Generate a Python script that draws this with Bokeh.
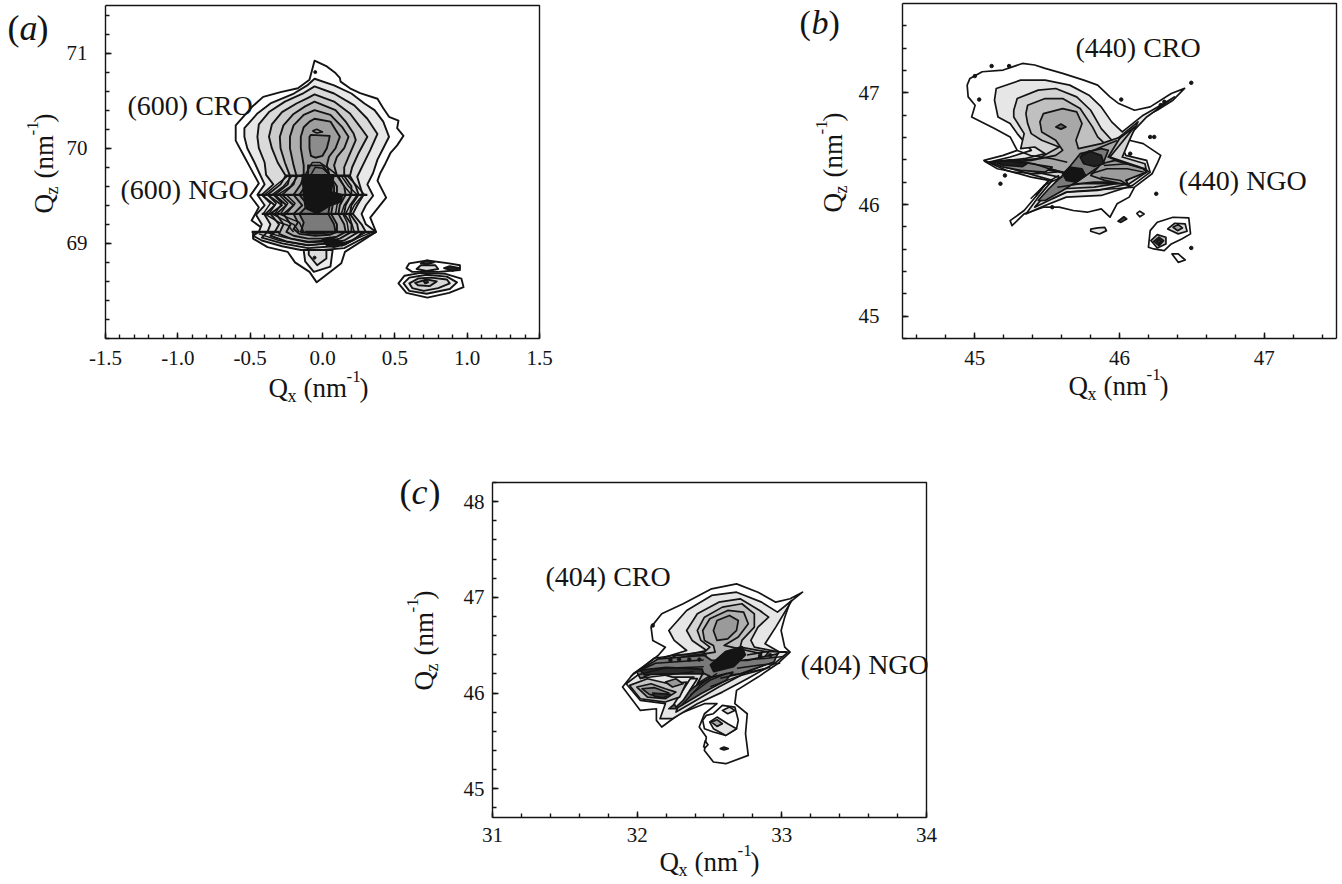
from bokeh.plotting import figure
from bokeh.layouts import column, row
from bokeh.models import FixedTicker, NumeralTickFormatter, Range1d, Spacer
from bokeh.core.properties import value
from bokeh.embed import file_html
from bokeh.resources import INLINE

INK = "#141414"
SERIF = "Liberation Serif"

# ---------- panel (a): (600) reflection, contour outlines as (Qx, Qz)
a_outer = [(-.055,70.92),(.03,70.86),(.09,70.79),(.12,70.74),(.125,70.70),(.19,70.63),(.26,70.58),(.38,70.52),(.42,70.42),(.46,70.33),(.525,70.29),(.516,70.21),(.56,70.13),(.516,70.03),(.47,69.95),(.435,69.84),(.40,69.74),(.38,69.66),(.44,69.48),(.33,69.27),(.37,69.12),(.155,68.91),(.13,68.79),(.07,68.72),(-.04,68.59),(-.09,68.70),(-.19,68.80),(-.24,68.91),(-.38,68.96),(-.48,69.05),(-.48,69.11),(-.38,69.12),(-.49,69.24),(-.44,69.38),(-.50,69.50),(-.44,69.63),(-.49,69.77),(-.54,69.91),(-.60,70.08),(-.60,70.24),(-.49,70.43),(-.41,70.54),(-.29,70.59),(-.17,70.63),(-.09,70.72)]
a_tip2 = [(-.13,68.93),(-.12,68.81),(-.06,68.70),(.055,68.755),(.07,68.93)]
a_tip3 = [(-.095,68.93),(-.095,68.88),(-.037,68.77),(.027,68.84),(.027,68.93)]
a_lev1 = [(-.055,70.73),(.08,70.66),(.20,70.575),(.29,70.47),(.36,70.40),(.42,70.28),(.46,70.12),(.42,70.0),(.38,69.88),(.35,69.74),(.31,69.62),(.35,69.5),(.30,69.4),(.27,69.31),(.30,69.2),(.37,69.12),(.25,69.03),(.15,68.95),(0,68.93),(-.15,68.93),(-.28,68.97),(-.42,69.03),(-.48,69.08),(-.44,69.12),(-.42,69.2),(-.46,69.3),(-.40,69.4),(-.45,69.51),(-.40,69.62),(-.44,69.75),(-.47,69.85),(-.52,70.0),(-.54,70.12),(-.54,70.21),(-.45,70.365),(-.36,70.47),(-.198,70.575),(-.106,70.66)]
a_lev2 = [(-.055,70.65),(.08,70.575),(.22,70.45),(.31,70.31),(.38,70.15),(.33,69.98),(.285,69.84),(.24,69.70),(.28,69.5),(.24,69.4),(.21,69.31),(.27,69.2),(.30,69.12),(.2,69.03),(.08,68.97),(-.1,68.95),(-.28,69.0),(-.42,69.06),(-.38,69.12),(-.36,69.2),(-.40,69.3),(-.33,69.4),(-.42,69.51),(-.34,69.62),(-.39,69.72),(-.40,69.85),(-.44,70.0),(-.45,70.12),(-.44,70.25),(-.37,70.38),(-.26,70.49),(-.13,70.58)]
a_lev3 = [(-.055,70.565),(.08,70.49),(.19,70.365),(.26,70.225),(.31,70.12),(.25,69.95),(.205,69.8),(.19,69.71),(.23,69.6),(.25,69.51),(.20,69.4),(.19,69.31),(.24,69.2),(.25,69.12),(.15,69.03),(.04,69.0),(-.1,68.98),(-.25,69.02),(-.36,69.08),(-.33,69.12),(-.3,69.2),(-.36,69.31),(-.28,69.4),(-.38,69.51),(-.29,69.62),(-.255,69.71),(-.31,69.85),(-.35,70.0),(-.37,70.12),(-.35,70.25),(-.28,70.38),(-.18,70.47),(-.1,70.53)]
a_lev4 = [(-.055,70.49),(.09,70.40),(.16,70.28),(.215,70.155),(.23,70.085),(.18,69.91),(.15,69.8),(.15,69.71),(.2,69.6),(.2,69.51),(.16,69.4),(.15,69.31),(.2,69.2),(.2,69.12),(.12,69.05),(.02,69.02),(-.1,69.01),(-.22,69.05),(-.3,69.1),(-.27,69.2),(-.32,69.31),(-.25,69.4),(-.33,69.51),(-.24,69.62),(-.225,69.71),(-.26,69.85),(-.29,70.0),(-.295,70.12),(-.27,70.24),(-.2,70.36),(-.12,70.44)]
a_lev5 = [(-.055,70.40),(.055,70.35),(.135,70.225),(.18,70.12),(.15,70.0),(.10,69.91),(.08,69.82),(.1,69.71),(.15,69.6),(.16,69.51),(.12,69.4),(.11,69.31),(.15,69.2),(.16,69.12),(.1,69.07),(0,69.05),(-.1,69.05),(-.2,69.08),(-.25,69.12),(-.22,69.2),(-.27,69.31),(-.2,69.4),(-.28,69.51),(-.2,69.62),(-.18,69.71),(-.2,69.82),(-.225,70.0),(-.225,70.12),(-.2,70.24),(-.13,70.35)]
a_lev6 = [(-.055,70.31),(.055,70.28),(.12,70.12),(.09,70.0),(.045,69.91),(.03,69.82),(.05,69.71),(.1,69.6),(.1,69.51),(.07,69.4),(.06,69.31),(.1,69.2),(.1,69.12),(.05,69.09),(-.05,69.08),(-.16,69.1),(-.2,69.15),(-.17,69.22),(-.2,69.31),(-.14,69.4),(-.2,69.51),(-.15,69.62),(-.13,69.71),(-.13,69.82),(-.15,70.0),(-.15,70.12),(-.13,70.22),(-.09,70.28)]
a_lev7 = [(-.09,70.12),(-.08,70.14),(.05,70.13),(.045,70.09),(.03,70.0),(.0,69.92),(-.05,69.9),(-.08,69.92),(-.09,70.0)]
a_lev8 = [(-.1,69.82),(0,69.82),(.05,69.72),(.08,69.6),(.08,69.51),(.05,69.4),(.04,69.31),(.08,69.2),(.09,69.12),(-.05,69.1),(-.15,69.12),(-.13,69.22),(-.16,69.31),(-.1,69.4),(-.16,69.51),(-.11,69.62),(-.1,69.71)]
a_black1 = [(-.14,69.72),(.078,69.72),(.06,69.54),(.136,69.51),(.13,69.44),(.055,69.40),(-.037,69.315),(-.118,69.37),(-.13,69.525)]
a_black2 = [(.0,69.04),(.05,69.06),(.11,69.03),(.16,68.99),(.08,68.96),(.03,68.98)]
a_peak1 = [(.525,68.58),(.567,68.66),(.68,68.69),(.85,68.68),(.96,68.63),(.975,68.54),(.875,68.48),(.725,68.43),(.58,68.48)]
a_peak2 = [(.56,68.58),(.6,68.64),(.72,68.67),(.86,68.65),(.93,68.59),(.88,68.52),(.72,68.47),(.6,68.5)]
a_peak3 = [(.6,68.58),(.66,68.63),(.75,68.64),(.86,68.62),(.88,68.58),(.8,68.53),(.7,68.5),(.62,68.53)]
a_peak4 = [(.64,68.585),(.72,68.62),(.79,68.6),(.74,68.55),(.66,68.56)]
a_peak5 = [(.70,68.6),(.72,68.61),(.73,68.59),(.71,68.58)]
a_upper1 = [(.58,68.74),(.60,68.79),(.725,68.82),(.875,68.79),(.95,68.77),(.95,68.72),(.80,68.70),(.62,68.70)]
a_upper2 = [(.65,68.73),(.68,68.77),(.78,68.77),(.80,68.73),(.72,68.71)]
a_upper3 = [(.68,68.79),(.72,68.82),(.77,68.80),(.72,68.78)]
a_upper4 = [(.84,68.74),(.88,68.76),(.95,68.74),(.90,68.71)]
a_bands = [[(-.255,69.71),(.19,69.71)],[(-.45,69.51),(.31,69.51)],[(-.42,69.31),(.21,69.31)],[(-.49,69.12),(-.30,69.12)],[(-.12,69.12),(.37,69.12)]]
a_zigzags = [
    [(-.42,69.51),(-.36,69.42),(-.41,69.31)],[(-.38,69.51),(-.32,69.42),(-.37,69.31)],[(-.34,69.51),(-.28,69.42),(-.33,69.31)],
    [(-.30,69.51),(-.24,69.42),(-.29,69.31)],[(-.25,69.51),(-.19,69.42),(-.25,69.31)],
    [(.28,69.51),(.22,69.4),(.19,69.31)],[(.24,69.51),(.19,69.4),(.16,69.31)],[(.20,69.51),(.15,69.4),(.13,69.31)],[(.13,69.51),(.10,69.4),(.09,69.31)],
    [(-.24,69.71),(-.33,69.6),(-.40,69.51)],[(-.21,69.71),(-.27,69.6),(-.35,69.51)],[(-.17,69.71),(-.22,69.6),(-.31,69.51)],
    [(.17,69.71),(.24,69.6),(.29,69.51)],[(.13,69.71),(.18,69.6),(.24,69.51)],[(.11,69.71),(.15,69.6),(.2,69.51)],
    [(-.4,69.31),(-.3,69.22),(-.24,69.19),(-.2,69.12)],[(-.35,69.31),(-.27,69.25),(-.2,69.2),(-.16,69.12)],[(-.3,69.31),(-.24,69.27),(-.16,69.22),(-.13,69.12)],
    [(.18,69.31),(.2,69.22),(.22,69.12)],[(.14,69.31),(.17,69.22),(.18,69.12)],
    [(-.44,69.1),(-.3,69.03),(-.1,68.98),(.06,69.0)],[(-.38,69.11),(-.25,69.06),(-.1,69.02),(.02,69.03)],
    [(.16,68.99),(.25,69.06),(.33,69.11)],[(.13,68.97),(.22,69.04),(.27,69.11)],
    [(-.12,69.72),(-.07,69.85),(-.02,69.85),(.05,69.78),(.1,69.72)],[(-.08,69.72),(-.05,69.8),(0,69.79),(.05,69.72)],
]
a_dots = [(-.05,70.80),(-.055,68.85)]
a_loop = [(-.07,70.18),(-.04,70.2),(.0,70.17),(-.04,70.16),(-.07,70.18)]

# ---------- panel (b): (440) reflection
b_outer = [(44.947,47.069),(44.966,47.129),(45.051,47.189),(45.196,47.204),(45.329,47.263),(45.414,47.249),(45.486,47.219),(45.607,47.174),(45.753,47.114),(45.849,47.069),(45.934,46.964),(45.995,46.904),(46.104,46.844),(46.212,46.874),(46.358,46.994),(46.45,47.04),(46.37,46.934),(46.26,46.844),(46.164,46.784),(46.104,46.695),(46.067,46.575),(46.164,46.545),(46.285,46.44),(46.26,46.365),(46.225,46.275),(46.104,46.156),(46.067,46.066),(45.983,46.006),(45.934,45.886),(45.874,45.961),(45.777,45.931),(45.68,45.946),(45.583,45.976),(45.474,45.976),(45.341,45.916),(45.257,45.811),(45.244,45.856),(45.341,45.946),(45.438,46.096),(45.511,46.216),(45.39,46.245),(45.22,46.305),(45.063,46.395),(45.196,46.44),(45.293,46.485),(45.244,46.605),(45.136,46.68),(44.978,46.784),(45.002,46.889),(44.954,46.964)]
b_lev1 = [(45.148,47.039),(45.317,47.114),(45.486,47.114),(45.656,47.069),(45.789,46.979),(45.874,46.874),(45.946,46.74),(46.019,46.65),(46.164,46.8),(46.285,46.889),(46.38,46.964),(46.188,46.784),(46.079,46.635),(46.019,46.515),(46.043,46.44),(46.188,46.395),(46.212,46.29),(46.091,46.171),(45.874,46.081),(45.632,46.066),(45.486,45.991),(45.353,45.916),(45.438,46.066),(45.535,46.216),(45.293,46.305),(45.099,46.38),(45.244,46.425),(45.39,46.485),(45.293,46.635),(45.244,46.725),(45.16,46.784),(45.136,46.934)]
b_lev2 = [(45.269,46.844),(45.293,46.949),(45.438,47.024),(45.559,47.039),(45.704,46.964),(45.801,46.844),(45.874,46.68),(45.958,46.56),(46.128,46.74),(46.079,46.605),(46.019,46.425),(46.176,46.365),(46.188,46.29),(46.067,46.186),(45.849,46.126),(45.632,46.111),(45.511,46.036),(45.414,45.976),(45.535,46.156),(45.583,46.245),(45.317,46.32),(45.123,46.38),(45.341,46.41),(45.486,46.455),(45.414,46.515),(45.317,46.5),(45.341,46.635),(45.269,46.784)]
b_lev3 = [(45.353,46.814),(45.365,46.889),(45.486,46.949),(45.607,46.949),(45.728,46.859),(45.813,46.695),(45.849,46.605),(45.922,46.515),(46.104,46.695),(45.934,46.425),(46.14,46.335),(46.043,46.201),(45.825,46.156),(45.607,46.141),(45.462,46.036),(45.583,46.216),(45.656,46.275),(45.317,46.35),(45.148,46.38),(45.438,46.41),(45.583,46.515),(45.462,46.575),(45.39,46.635),(45.365,46.725)]
b_lev4 = [(45.45,46.74),(45.474,46.814),(45.607,46.859),(45.704,46.829),(45.741,46.725),(45.699,46.575),(45.716,46.5),(45.874,46.545),(46.007,46.605),(45.922,46.425),(46.116,46.32),(46.019,46.201),(45.825,46.201),(45.607,46.171),(45.474,46.051),(45.559,46.201),(45.632,46.275),(45.486,46.335),(45.317,46.365),(45.172,46.374),(45.39,46.395),(45.559,46.44),(45.607,46.485),(45.559,46.575),(45.462,46.65)]
b_ridge = [(45.438,46.036),(45.511,46.141),(45.607,46.26),(45.728,46.455),(45.874,46.5),(45.922,46.485),(45.886,46.365),(45.753,46.245),(45.607,46.126),(45.486,46.036)]
b_right = [(45.874,46.365),(45.97,46.395),(46.164,46.32),(46.188,46.29),(46.043,46.216),(46.067,46.171),(45.898,46.216),(45.801,46.26)]
b_left = [(45.111,46.38),(45.244,46.401),(45.39,46.365),(45.535,46.335),(45.486,46.29),(45.317,46.305),(45.196,46.335)]
b_black1 = [(45.607,46.275),(45.656,46.335),(45.74,46.32),(45.765,46.26),(45.704,46.2),(45.632,46.216)]
b_black2 = [(45.728,46.425),(45.789,46.479),(45.874,46.44),(45.893,46.365),(45.825,46.34),(45.753,46.365)]
b_black3 = [(45.13,46.385),(45.25,46.39),(45.36,46.365),(45.33,46.34),(45.2,46.35)]
b_ngo0 = [(46.2,45.617),(46.212,45.766),(46.261,45.841),(46.37,45.886),(46.479,45.88),(46.491,45.737),(46.43,45.692),(46.358,45.647),(46.309,45.587),(46.237,45.602)]
b_ngo1 = [(46.333,45.781),(46.382,45.832),(46.454,45.826),(46.467,45.76),(46.406,45.737)]
b_ngo2 = [(46.37,45.796),(46.406,45.82),(46.435,45.79),(46.401,45.766)]
b_ngo3 = [(46.217,45.677),(46.261,45.73),(46.321,45.707),(46.321,45.647),(46.261,45.611)]
b_ngo4 = [(46.237,45.67),(46.273,45.707),(46.305,45.677),(46.273,45.632)]
b_ngo5 = [(46.255,45.67),(46.273,45.69),(46.29,45.67),(46.273,45.65)]
b_blob1 = [(46.363,45.557),(46.406,45.557),(46.454,45.503),(46.406,45.482)]
b_blob2 = [(45.801,45.78),(45.849,45.79),(45.898,45.796),(45.91,45.766),(45.862,45.736),(45.801,45.76)]
b_blob3 = [(46.12,45.92),(46.14,45.94),(46.17,45.915),(46.14,45.89)]
b_blob4 = [(45.99,45.85),(46.03,45.89),(46.05,45.87),(46.01,45.84)]
b_blob5 = [(45.56,46.695),(45.595,46.72),(45.63,46.695),(45.595,46.675)]
b_lines = [
    [(45.087,46.379),(45.271,46.394),(45.409,46.365),(45.513,46.32),(45.616,46.29)],
    [(45.064,46.388),(45.156,46.32),(45.271,46.29),(45.432,46.275),(45.57,46.29)],
    [(45.294,46.484),(45.386,46.439),(45.536,46.409),(45.639,46.379)],
    [(45.892,46.35),(46.053,46.365),(46.18,46.32),(46.203,46.29)],
    [(45.8,46.275),(45.915,46.32),(46.053,46.32),(46.168,46.29)],
    [(45.869,46.245),(46.007,46.215),(46.065,46.17)],
    [(45.57,46.155),(45.731,46.185),(45.915,46.185),(46.053,46.185)],
    [(45.536,46.051),(45.639,46.111),(45.777,46.126),(45.961,46.141),(46.099,46.155)],
    [(45.42,46.081),(45.478,46.171),(45.547,46.215),(45.605,46.245)],
    [(45.386,46.051),(45.444,46.126),(45.501,46.2),(45.582,46.26)],
    [(45.731,46.439),(45.846,46.499),(45.927,46.544),(45.984,46.573)],
]
b_dots = [(45.116,47.24),(45.237,47.24),(45.0,47.15),(45.03,46.94),(46.496,47.09),(46.012,46.94),(46.285,46.89),(46.31,46.92),(46.074,46.455),(46.212,46.605),(46.24,46.605),(45.208,46.26),(45.177,46.186),(45.535,45.976),(46.254,46.096),(46.496,45.611)]

# ---------- panel (c): (404) reflection
c_outer = [(33.143,47.054),(33.057,46.95),(33.02,46.793),(32.995,46.654),(33.02,46.48),(33.057,46.428),(32.97,46.306),(32.835,46.167),(32.687,46.028),(32.675,45.889),(32.761,45.784),(32.749,45.575),(32.768,45.349),(32.613,45.262),(32.527,45.28),(32.465,45.401),(32.478,45.541),(32.429,45.645),(32.465,45.784),(32.552,45.889),(32.465,45.889),(32.293,45.784),(32.17,45.645),(32.133,45.715),(32.133,45.836),(32.022,45.819),(31.899,46.063),(31.973,46.202),(32.071,46.306),(32.145,46.393),(32.195,46.48),(32.108,46.55),(32.096,46.689),(32.17,46.828),(32.318,46.933),(32.515,47.089),(32.687,47.141),(32.835,47.054),(32.958,46.95),(33.057,46.985)]
c_lev1 = [(32.219,46.654),(32.342,46.863),(32.515,47.02),(32.687,47.054),(32.86,46.95),(32.97,46.846),(33.069,46.967),(32.958,46.689),(32.884,46.515),(32.983,46.428),(33.044,46.428),(32.946,46.306),(32.761,46.15),(32.589,46.01),(32.416,45.889),(32.244,45.732),(32.158,45.732),(32.195,45.889),(32.022,45.923),(31.924,46.097),(32.047,46.237),(32.195,46.376),(32.342,46.445),(32.256,46.55)]
c_lev2 = [(32.342,46.654),(32.416,46.828),(32.564,46.95),(32.712,46.985),(32.847,46.863),(32.909,46.793),(32.835,46.689),(32.786,46.55),(32.81,46.48),(32.983,46.428),(32.933,46.341),(32.761,46.219),(32.564,46.063),(32.367,45.889),(32.268,45.802),(32.342,46.097),(32.392,46.167),(32.244,46.167),(32.096,46.23),(32.195,46.341),(32.37,46.41),(32.48,46.445),(32.38,46.55)]
c_lev3 = [(32.416,46.654),(32.465,46.793),(32.589,46.898),(32.724,46.933),(32.81,46.828),(32.81,46.689),(32.724,46.55),(32.712,46.48),(32.909,46.428),(32.86,46.341),(32.662,46.202),(32.515,46.097),(32.367,45.958),(32.441,46.167),(32.478,46.289),(32.318,46.324),(32.121,46.271),(32.268,46.393),(32.465,46.428),(32.502,46.48),(32.441,46.55)]
c_lev4 = [(32.453,46.654),(32.502,46.776),(32.626,46.863),(32.736,46.846),(32.768,46.724),(32.699,46.585),(32.601,46.498),(32.86,46.411),(32.835,46.324),(32.638,46.237),(32.49,46.167),(32.416,46.097),(32.478,46.271),(32.342,46.341),(32.145,46.289),(32.318,46.376),(32.539,46.428),(32.527,46.498),(32.465,46.55)]
c_lev5 = [(32.527,46.654),(32.552,46.759),(32.638,46.811),(32.699,46.759),(32.687,46.654),(32.626,46.567),(32.552,46.55)]
c_band = [(31.998,46.219),(32.145,46.358),(32.465,46.393),(32.515,46.341),(32.761,46.341),(32.97,46.411),(32.946,46.324),(32.712,46.202),(32.515,46.167),(32.416,46.237),(32.121,46.219),(32.022,46.15)]
c_diag = [(32.219,45.836),(32.392,46.063),(32.515,46.167),(32.662,46.219),(32.613,46.132),(32.441,45.993),(32.268,45.836)]
c_black = [(32.506,46.294),(32.61,46.433),(32.725,46.485),(32.748,46.398),(32.667,46.276),(32.529,46.224)]
c_streak = [(32.02,46.24),(32.2,46.27),(32.45,46.25),(32.46,46.2),(32.2,46.2),(32.05,46.19)]
c_lobe1 = [(31.948,46.08),(32.071,46.15),(32.219,46.097),(32.342,46.115),(32.293,45.958),(32.195,45.906),(32.022,45.941)]
c_lobe2 = [(31.998,46.063),(32.096,46.097),(32.195,46.045),(32.268,46.01),(32.195,45.941),(32.071,45.958)]
c_lobe3 = [(32.034,46.045),(32.121,46.056),(32.219,46.0),(32.17,45.958),(32.084,45.986)]
c_lobe4 = [(32.108,46.0),(32.23,45.986),(32.182,45.951),(32.12,45.965)]
c_lobe5 = [(32.195,46.115),(32.268,46.15),(32.317,46.097),(32.244,46.063)]
c_white = [(32.367,46.15),(32.416,46.15),(32.318,45.923),(32.268,45.854),(32.256,45.889)]
c_ngo1 = [(32.453,45.715),(32.478,45.767),(32.527,45.784),(32.589,45.871),(32.675,45.854),(32.699,45.715),(32.687,45.628),(32.613,45.558),(32.527,45.593),(32.465,45.628)]
c_ngo2 = [(32.502,45.697),(32.552,45.749),(32.626,45.68),(32.687,45.628),(32.613,45.558),(32.527,45.628)]
c_ngo3 = [(32.589,45.819),(32.638,45.854),(32.675,45.819),(32.626,45.784)]
c_ngo4 = [(32.514,45.697),(32.552,45.722),(32.589,45.68),(32.552,45.652)]
c_ngo5 = [(32.46,45.44),(32.47,45.5),(32.49,45.46),(32.47,45.43)]
c_dash = [(32.575,45.42),(32.6,45.435),(32.63,45.42),(32.6,45.405)]
c_lines = [
    [(31.954,46.172),(32.115,46.363),(32.276,46.398),(32.483,46.398)],
    [(31.977,46.207),(32.127,46.311),(32.276,46.328),(32.46,46.346)],
    [(32.0,46.189),(32.184,46.259),(32.46,46.276)],
    [(32.023,46.154),(32.207,46.189),(32.391,46.224)],
    [(32.759,46.398),(32.897,46.433),(33.035,46.433)],
    [(32.736,46.346),(32.897,46.363),(33.012,46.381)],
    [(32.69,46.259),(32.851,46.294),(32.989,46.311)],
    [(32.575,46.154),(32.736,46.207),(32.92,46.269)],
    [(32.506,46.067),(32.69,46.172),(32.897,46.259)],
    [(32.368,45.98),(32.506,46.137),(32.621,46.207)],
    [(32.31,45.876),(32.437,46.085),(32.552,46.207)],
]
c_dots = [(32.108,46.706),(32.23,46.345),(32.29,46.35),(32.36,46.35),(32.43,46.35),(32.85,46.39),(32.92,46.395)]

# ---------- tick values
a_xticks = [-1.5, -1.0, -0.5, 0.0, 0.5, 1.0, 1.5]
a_yticks = [69, 70, 71]
b_xticks = [45, 46, 47]
b_yticks = [45, 46, 47]
c_xticks = [31, 32, 33, 34]
c_yticks = [45, 46, 47, 48]


def minors(start, stop, n):
    return [round(start + i * (stop - start) / n, 3) for i in range(n + 1)]


def panel(w, h, frame, canvas, xr, yr, xt, yt, xm, ym, ystand, xstand):
    """The plot frame fills the canvas; the box is the axes pinned at the data limits."""
    l, t, r, b = frame
    cx, cy = canvas
    sx = (xr[1] - xr[0]) / (r - l)
    sy = (yr[1] - yr[0]) / (b - t)
    p = figure(width=w, height=h, output_backend="svg", toolbar_location=None,
               x_range=Range1d(xr[0] + (cx - l) * sx, xr[0] + (cx + w - l) * sx),
               y_range=Range1d(yr[1] - (cy + h - t) * sy, yr[1] - (cy - t) * sy),
               min_border_left=0, min_border_right=0, min_border_top=0, min_border_bottom=0)
    p.grid.visible = False
    p.background_fill_color = None
    p.border_fill_color = None
    p.outline_line_color = None
    p.xaxis.fixed_location = yr[0]
    p.yaxis.fixed_location = xr[0]
    p.xaxis.bounds = xr
    p.yaxis.bounds = yr
    for ax, ticks, mins, st in ((p.xaxis[0], xt, xm, xstand), (p.yaxis[0], yt, ym, ystand)):
        ax.ticker = FixedTicker(ticks=ticks, minor_ticks=mins)
        ax.major_tick_in = 6
        ax.major_tick_out = 0
        ax.minor_tick_in = 4
        ax.minor_tick_out = 0
        ax.axis_line_color = INK
        ax.axis_line_width = 1.4
        ax.major_tick_line_color = INK
        ax.minor_tick_line_color = INK
        ax.major_tick_line_width = 1.4
        ax.minor_tick_line_width = 1.4
        ax.major_label_text_font = SERIF
        ax.major_label_text_font_size = "21px"
        ax.major_label_text_color = INK
        ax.major_label_standoff = st
    p.yaxis[0].major_label_orientation = "horizontal"
    p.line([xr[0], xr[1], xr[1]], [yr[1], yr[1], yr[0]], line_color=INK, line_width=1.4)
    return p


def fill(p, polys, width=1.9):
    p.patches([[q[0] for q in poly] for poly, _ in polys],
              [[q[1] for q in poly] for poly, _ in polys],
              fill_color=[c for _, c in polys], line_color=INK,
              line_width=width, line_join="round")


def lines(p, paths, width=1.5):
    p.multi_line([[q[0] for q in l] for l in paths], [[q[1] for q in l] for l in paths],
                 line_color=INK, line_width=width, line_join="round")


def label(p, frame, xr, yr, text, px, py, size, italic=False, angle=0):
    l, t, r, b = frame
    x = xr[0] + (px - l) * (xr[1] - xr[0]) / (r - l)
    y = yr[1] - (py - t) * (yr[1] - yr[0]) / (b - t)
    p.text(x=[x], y=[y], text=[text], text_font=value(SERIF), text_font_size=value(f"{size}px"),
           text_color=INK, text_font_style="italic" if italic else "normal",
           text_baseline="alphabetic", text_align="left", angle=angle, angle_units="deg")


def xlabel(p, fr, xr, yr, x0, base):
    label(p, fr, xr, yr, "Q", x0, base, 27)
    label(p, fr, xr, yr, "x", x0 + 19, base + 8, 18)
    label(p, fr, xr, yr, "(nm", x0 + 35, base, 27)
    label(p, fr, xr, yr, "-1", x0 + 78, base - 11, 17)
    label(p, fr, xr, yr, ")", x0 + 91, base, 27)


def ylabel(p, fr, xr, yr, base, y0):
    label(p, fr, xr, yr, "Q", base, y0, 27, angle=90)
    label(p, fr, xr, yr, "z", base + 8, y0 - 19, 18, angle=90)
    label(p, fr, xr, yr, "(nm", base, y0 - 35, 27, angle=90)
    label(p, fr, xr, yr, "-1", base - 11, y0 - 78, 17, angle=90)
    label(p, fr, xr, yr, ")", base, y0 - 91, 27, angle=90)


def letter(p, fr, xr, yr, ch, px, base, size=36):
    label(p, fr, xr, yr, "(", px, base, size)
    label(p, fr, xr, yr, ch, px + 12, base, size, italic=True)
    label(p, fr, xr, yr, ")", px + 29, base, size)


# ---------- panel (a)
fa = (105, 5, 539, 338)
xa, ya = (-1.5, 1.5), (68.0, 71.5)
pa = panel(600, 420, fa, (0, 0), xa, ya, a_xticks, a_yticks,
           minors(-1.5, 1.5, 30), minors(68.0, 71.4, 17), 18, 12)
pa.xaxis[0].formatter = NumeralTickFormatter(format="0.0")
fill(pa, [(a_outer, "white"), (a_tip2, "#ececec"), (a_tip3, "#dddddd"),
          (a_lev1, "#e8e8e8"), (a_lev2, "#dadada"), (a_lev3, "#cbcbcb"),
          (a_lev4, "#bcbcbc"), (a_lev5, "#adadad"), (a_lev6, "#9e9e9e"),
          (a_lev7, "#8c8c8c"), (a_lev8, "#7a7a7a"), (a_black1, "#141414"), (a_black2, "#141414"),
          (a_peak1, "white"), (a_peak2, "#e8e8e8"), (a_peak3, "#d8d8d8"), (a_peak4, "#c4c4c4"), (a_peak5, "#888888"),
          (a_upper1, "white"), (a_upper2, "#dddddd"), (a_upper3, "#333333"), (a_upper4, "#222222")])
lines(pa, a_zigzags)
lines(pa, a_bands, 2.4)
lines(pa, [a_loop], 1.6)
pa.scatter([q[0] for q in a_dots], [q[1] for q in a_dots], size=3, color=INK)
letter(pa, fa, xa, ya, "a", 7, 27)
label(pa, fa, xa, ya, "(600) CRO", 127, 105, 28)
label(pa, fa, xa, ya, "(600) NGO", 120, 189, 28)
xlabel(pa, fa, xa, ya, 268, 387)
ylabel(pa, fa, xa, ya, 43, 213)

# ---------- panel (b)
fb = (902, 3, 1336, 338)
xb, yb = (44.5, 47.5), (44.8, 47.8)
pb = panel(742, 420, fb, (600, 0), xb, yb, b_xticks, b_yticks,
           minors(44.6, 47.4, 14), minors(44.8, 47.6, 14), 23, 12)
fill(pb, [(b_outer, "white"), (b_lev1, "#e6e6e6"), (b_lev2, "#d4d4d4"), (b_lev3, "#c0c0c0"), (b_lev4, "#a8a8a8"),
          (b_ridge, "#7a7a7a"), (b_right, "#9c9c9c"), (b_left, "#888888"), (b_black1, "#141414"), (b_black2, "#222222"), (b_black3, "#1c1c1c"),
          (b_ngo0, "white"), (b_ngo1, "#d8d8d8"), (b_ngo2, "#a0a0a0"), (b_ngo3, "#bcbcbc"), (b_ngo4, "#777777"), (b_ngo5, "#333333"),
          (b_blob1, "white"), (b_blob2, "#e8e8e8"), (b_blob3, "white"), (b_blob4, "#444444"), (b_blob5, "#666666")], 1.7)
lines(pb, b_lines)
pb.scatter([q[0] for q in b_dots], [q[1] for q in b_dots], size=3.5, color=INK)
letter(pb, fb, xb, yb, "b", 799, 22, 34)
label(pb, fb, xb, yb, "(440) CRO", 1075, 47, 28)
label(pb, fb, xb, yb, "(440) NGO", 1178, 180, 28)
xlabel(pb, fb, xb, yb, 1068, 385)
ylabel(pb, fb, xb, yb, 832, 212)

# ---------- panel (c)
fc = (492, 482, 926, 817)
xc, yc = (31.0, 34.0), (44.7, 48.2)
pc = panel(570, 464, fc, (380, 420), xc, yc, c_xticks, c_yticks,
           minors(31.0, 34.0, 15), minors(44.8, 48.2, 17), 8, 10)
fill(pc, [(c_outer, "white"), (c_ngo1, "white"), (c_ngo2, "#e4e4e4"), (c_ngo3, "#dddddd"), (c_ngo4, "#aaaaaa"), (c_ngo5, "white"), (c_dash, "#333333"),
          (c_lev1, "#e6e6e6"), (c_lev2, "#d4d4d4"), (c_lev3, "#c0c0c0"), (c_lev4, "#b0b0b0"), (c_lev5, "#9a9a9a"),
          (c_band, "#7a7a7a"), (c_diag, "#5e5e5e"), (c_streak, "#2a2a2a"), (c_black, "#141414"),
          (c_white, "#ececec"), (c_lobe1, "#c4c4c4"), (c_lobe2, "#a4a4a4"), (c_lobe3, "#808080"), (c_lobe4, "#333333"), (c_lobe5, "#999999")], 1.7)
lines(pc, c_lines)
pc.scatter([q[0] for q in c_dots], [q[1] for q in c_dots], size=3.5, color=INK)
letter(pc, fc, xc, yc, "c", 399, 491)
label(pc, fc, xc, yc, "(404) CRO", 545, 576, 28)
label(pc, fc, xc, yc, "(404) NGO", 800, 664, 28)
xlabel(pc, fc, xc, yc, 659, 861)
ylabel(pc, fc, xc, yc, 423, 690)

page = column(row(pa, pb), row(Spacer(width=380, height=464), pc))
open("out.html", "w").write(file_html(page, INLINE))
